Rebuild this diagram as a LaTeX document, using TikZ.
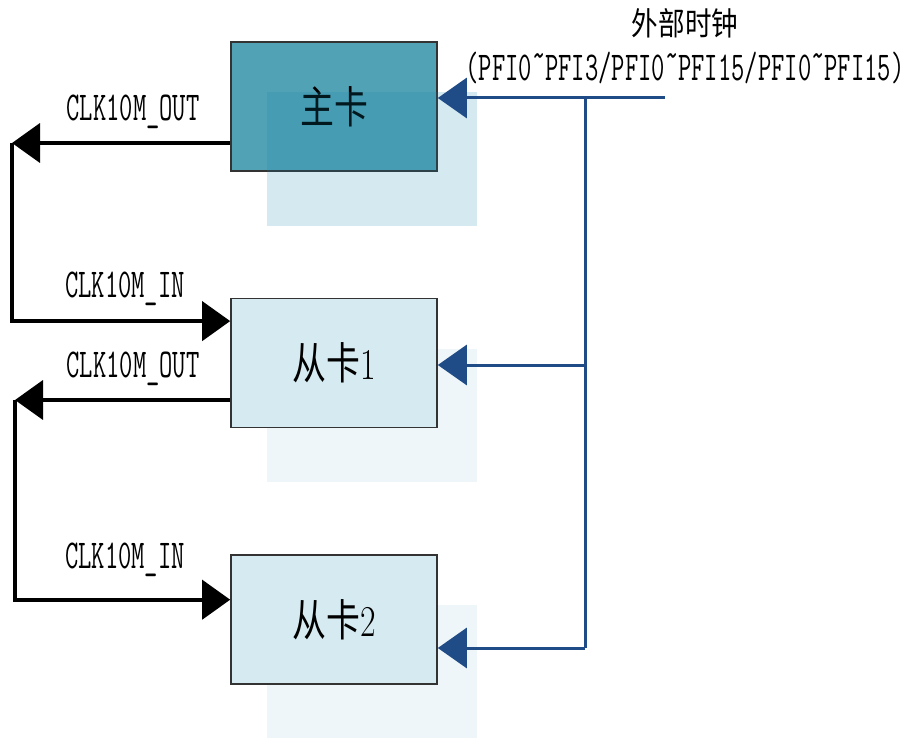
\documentclass[tikz,border=0pt]{standalone}
\usepackage{fontspec}
\newfontfamily\cjk{Noto Sans CJK SC}
\usetikzlibrary{positioning, arrows.meta, backgrounds}

\definecolor{maincard}{HTML}{52A2B5}
\definecolor{slavecard}{HTML}{D6EBF1}
\definecolor{shadowdark}{HTML}{108AAC}
\definecolor{shadowlight}{HTML}{EEF6F9}
\definecolor{clkblue}{HTML}{1F4B87}

\newcommand{\clklabel}[1]{\scalebox{0.63}[1]{\fontsize{20.5}{20.5}\selectfont\ttfamily #1}}
\newcommand{\cardlabel}[1]{\scalebox{0.77}[1]{\fontsize{22}{22}\selectfont\cjk #1}}
\newcommand{\pfitilde}{\raisebox{0.3em}{\textasciitilde}}

\tikzset{
    card/.style={draw=black!80, line width=0.8pt, minimum width=103pt, minimum height=64.5pt, inner sep=0pt},
    clkline/.style={line width=2pt, -{Triangle[length=14pt,width=19.5pt]}},
    extline/.style={draw=clkblue, line width=1.5pt},
    extarrow/.style={extline, -{Triangle[length=14.5pt,width=20pt]}},
}

\begin{document}
\begin{tikzpicture}[x=0.5pt, y=-0.5pt, node distance=63pt]
        \useasboundingbox (0,0) rectangle (915,738);

        \node[card, fill=maincard] (main) at (334,106.5) {\cardlabel{主卡}};
        \node[card, fill=slavecard, below=of main] (slave1) {\cardlabel{从卡{\rmfamily 1}}};
        \node[card, fill=slavecard, below=of slave1] (slave2) {\cardlabel{从卡{\rmfamily 2}}};

        \fill[shadowdark, fill opacity=0.18] ([shift={(37,51)}]main.north west) rectangle ([shift={(39,54)}]main.south east);
        \begin{scope}[on background layer]
            \fill[shadowlight] ([shift={(37,51)}]slave1.north west) rectangle ([shift={(39,54)}]slave1.south east);
            \fill[shadowlight] ([shift={(37,51)}]slave2.north west) rectangle ([shift={(39,54)}]slave2.south east);
        \end{scope}

        \node (extname) at (685,23) {\scalebox{0.83}[1]{\fontsize{16}{16}\selectfont\cjk 外部时钟}};
        \node (extpins) at (685,68) {\clklabel{(PFI0\pfitilde PFI3/PFI0\pfitilde PFI15/PFI0\pfitilde PFI15)}};

        \coordinate (ext) at (665,98);
        \coordinate (bus) at (585,98);
        \coordinate (bus1) at (585,365);
        \coordinate (bus2) at (585,648);
        \draw [extarrow] (ext)--(main.east |- ext);
        \draw [extline] (bus)--(bus2);
        \draw [extarrow] (bus1)--(slave1.east |- bus1);
        \draw [extarrow] (bus2)--(slave2.east |- bus2);

        \coordinate (mainout) at (12,143);
        \draw [clkline] (main.west |- mainout)--(mainout);
        \draw [clkline] (mainout) |- ([yshift=21pt]slave1.west);
        \node (mainoutlbl) at (133,112) {\clklabel{CLK10M\_OUT}};
        \node (slave1inlbl) at (125,289) {\clklabel{CLK10M\_IN}};

        \coordinate (slave1out) at (15,400);
        \draw [clkline] (slave1.west |- slave1out)--(slave1out);
        \draw [clkline] (slave1out) |- ([yshift=10pt]slave2.west);
        \node (slave1outlbl) at (133,369) {\clklabel{CLK10M\_OUT}};
        \node (slave2inlbl) at (125,560) {\clklabel{CLK10M\_IN}};
    \end{tikzpicture}
\end{document}
